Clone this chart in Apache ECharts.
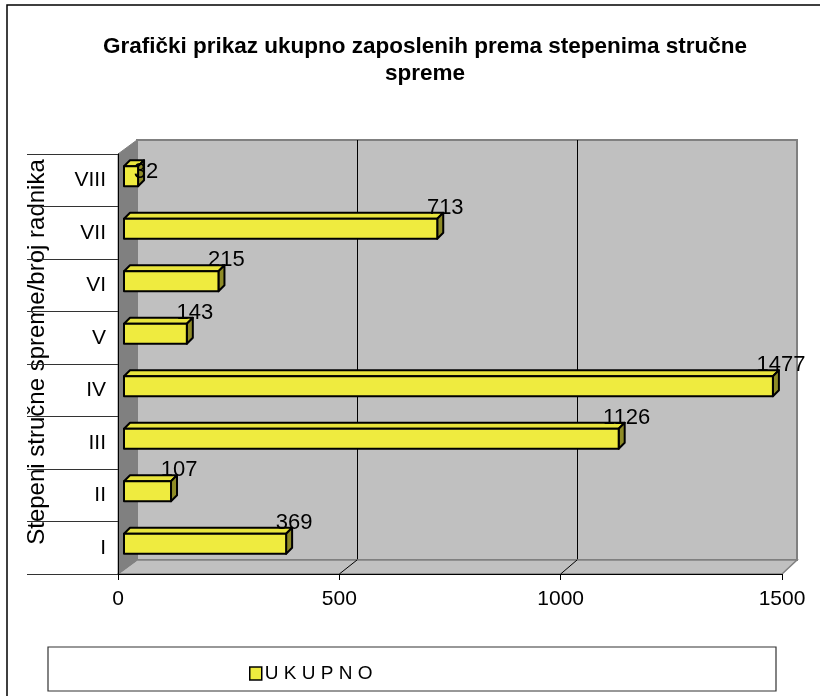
<!DOCTYPE html>
<html><head><meta charset="utf-8">
<script src="https://cdn.jsdelivr.net/npm/echarts@6/dist/echarts.min.js"></script>
<style>html,body{margin:0;padding:0;background:#fff}#c{width:820px;height:696px}</style>
</head><body><div id="c"></div>
<script>
const categories = ['I','II','III','IV','V','VI','VII','VIII'];
const values = [369, 107, 1126, 1477, 143, 215, 713, 32];
const xTicks = [0, 500, 1000, 1500];
const seriesName = 'U K U P N O';
const titleText = 'Grafički prikaz ukupno zaposlenih prema stepenima stručne\nspreme';
const yAxisTitle = 'Stepeni stručne spreme/broj radnika';

const FONT = 'Arial, "Liberation Sans", sans-serif';
const W = 820, H = 696;
const front = {left:118, right:38, top:154, bottom:122};
const back  = {left:137, right:23, top:140, bottom:136};
const barG  = {left:124, right:37, top:150, bottom:126};
const XMIN = xTicks[0], XMAX = xTicks[xTicks.length-1], XINT = xTicks[1]-xTicks[0];
const BAR_FRONT = '#EFEB3F', BAR_TOP = '#E9E53D', BAR_SIDE = '#8E8B26';

const chart = echarts.init(document.getElementById('c'), null, {renderer:'canvas'});

function valAxis(gi, show) {
  return {
    type:'value', gridIndex:gi, min:XMIN, max:XMAX, interval:XINT,
    axisLine:{show:show, lineStyle:{color:'#000', width:1}},
    axisTick:{show:show, length:6, lineStyle:{color:'#000'}},
    axisLabel:{show:show, fontSize:21, color:'#000', fontFamily:FONT, margin:15, formatter:v=>String(v)},
    splitLine:{show:false}
  };
}

const option = {
  animation:false,
  textStyle:{fontFamily:FONT},
  title:{
    text:titleText, left:420, top:28, textAlign:'center',
    textStyle:{fontSize:22.5, fontWeight:'bold', color:'#000', fontFamily:FONT, lineHeight:27}
  },
  legend:{
    left:244, top:659, itemWidth:12, itemHeight:13, itemGap:4,
    textStyle:{fontSize:19, color:'#000', fontFamily:FONT, padding:[0,0,0,-2]},
    data:[{name:seriesName, icon:'rect', itemStyle:{color:BAR_FRONT, borderColor:'#000', borderWidth:1.5}}]
  },
  grid:[
    Object.assign({show:false, containLabel:false, z:5}, front),
    Object.assign({show:true, backgroundColor:'#C0C0C0', borderColor:'#808080', borderWidth:2, z:0}, back),
    Object.assign({show:false}, barG)
  ],
  xAxis:[
    Object.assign(valAxis(0, true), {z:6}),
    Object.assign(valAxis(1, false), {z:0, splitLine:{show:true, showMinLine:false, showMaxLine:false, lineStyle:{color:'#000', width:1}}}),
    valAxis(2, false)
  ],
  yAxis:[
    {type:'category', gridIndex:0, data:categories, z:6,
     axisLine:{show:true, lineStyle:{color:'#000', width:1}},
     axisTick:{show:true, length:91, lineStyle:{color:'#333', width:1}},
     axisLabel:{fontSize:21, color:'#000', fontFamily:FONT, margin:12}},
    {type:'category', gridIndex:1, data:categories, show:false},
    {type:'category', gridIndex:2, data:categories, show:false}
  ],
  series:[{
    type:'custom', name:seriesName, xAxisIndex:2, yAxisIndex:2, z:10,
    itemStyle:{color:BAR_FRONT},
    data: values.map((v,i)=>[v,i]),
    renderItem:function(params, api){
      const v = api.value(0), ci = api.value(1);
      const p0 = api.coord([0, ci]);
      const p1 = api.coord([v, ci]);
      const band = api.size([0,1])[1];
      const h = band*0.38, d = 6;
      const x0 = p0[0], x1 = p1[0], y0 = p1[1] - h/2, y1 = y0 + h;
      const st = {stroke:'#000', lineWidth:2, lineJoin:'round'};
      // keep the label inside the plot area (as the original does for the top bar)
      const ly = Math.max(p1[1]-21, params.coordSys.y + 22);
      return {type:'group', children:[
        {type:'polygon', shape:{points:[[x0,y0],[x1,y0],[x1+d,y0-d],[x0+d,y0-d]]}, style:Object.assign({fill:BAR_TOP}, st)},
        {type:'polygon', shape:{points:[[x1,y0],[x1+d,y0-d],[x1+d,y1-d],[x1,y1]]}, style:Object.assign({fill:BAR_SIDE}, st)},
        {type:'rect', shape:{x:x0, y:y0, width:x1-x0, height:h}, style:Object.assign({fill:BAR_FRONT}, st)},
        {type:'text', x:x1+8, y:ly, z2:20, style:{text:String(v), fill:'#000', font:'22px '+FONT, align:'center', verticalAlign:'middle'}}
      ]};
    }
  }]
};
chart.setOption(option);

// decorative 3D walls aligned with the axes
const fy = H - front.bottom, fTop = front.top;
const by = H - back.bottom, bTop = back.top;
const fx = v => chart.convertToPixel({xAxisIndex:0}, v);
const bx = v => chart.convertToPixel({xAxisIndex:1}, v);
const g = [];
g.push({type:'rect', z:0, shape:{x:7, y:5, width:W+20, height:H+20}, style:{fill:'none', stroke:'#000', lineWidth:1.5}, silent:true});
g.push({type:'polygon', z:2, shape:{points:[[fx(XMIN),fy],[fx(XMAX),fy],[bx(XMAX),by],[bx(XMIN),by]]}, style:{fill:'#C0C0C0', stroke:'#808080', lineWidth:1.5}});
xTicks.slice(1,-1).forEach(t=>{
  g.push({type:'line', z:3, shape:{x1:fx(t), y1:fy, x2:bx(t), y2:by}, style:{stroke:'#000', lineWidth:1}});
});
g.push({type:'polygon', z:3, shape:{points:[[fx(XMIN),fTop],[bx(XMIN),bTop],[bx(XMIN),by],[fx(XMIN),fy]]}, style:{fill:'#808080', stroke:'#808080', lineWidth:1}});
g.push({type:'rect', z:1, shape:{x:48, y:647, width:728, height:44}, style:{fill:'#fff', stroke:'#333', lineWidth:1.2}});
g.push({type:'text', z:6, x:37, y:352, rotation:Math.PI/2, style:{text:yAxisTitle, fill:'#000', font:'24px '+FONT, align:'center', verticalAlign:'middle'}});
chart.setOption({graphic:g});
</script></body></html>
